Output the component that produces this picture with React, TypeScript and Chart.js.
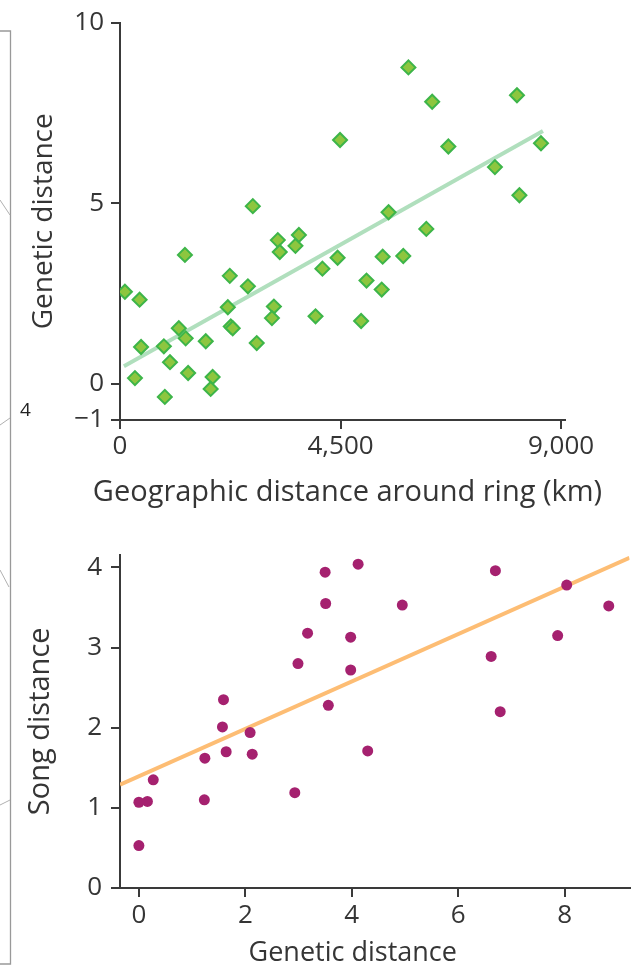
import React, { useEffect, useRef } from 'react';
import { Chart, registerables } from 'chart.js';

Chart.register(...registerables);

const FONT = '"Open Sans", "Noto Sans", "DejaVu Sans", sans-serif';
const AXIS = '#3a3a3a';
const TEXT = '#353535';

// ---- Top chart: geographic vs genetic distance ----
const geoDistanceKm = [100, 400, 305, 430, 915, 895, 1020, 1200, 1340, 1325, 1390, 1750, 1890, 1850, 2240, 2200, 2260, 2300, 2610, 2710, 2790, 3140, 3100, 3220, 3260, 3580, 3650, 3990, 4130, 4440, 4490, 4920, 5030, 5340, 5360, 5480, 5780, 6250, 5885, 6370, 6700, 7650, 8100, 8590, 8150];
const geneticDistTop = [2.55, 2.33, 0.16, 1.02, -0.36, 1.04, 0.6, 1.54, 1.26, 3.57, 0.3, 1.18, 0.19, -0.14, 2.99, 2.12, 1.59, 1.54, 2.7, 4.92, 1.13, 2.14, 1.82, 3.98, 3.65, 3.82, 4.12, 1.87, 3.19, 3.49, 6.75, 1.74, 2.86, 2.61, 3.52, 4.75, 3.54, 4.29, 8.76, 7.81, 6.57, 6.0, 7.99, 6.66, 5.22];
const topFitX = [80, 8630];
const topFitY = [0.49, 7.0];
const topXTicks = [0, 4500, 9000];
const topYTicks = [-1, 0, 5, 10];

// ---- Bottom chart: genetic vs song distance ----
const geneticDistBottom = [3.5, 4.12, 3.51, 3.17, 3.98, 2.99, 3.98, 1.59, 1.57, 2.09, 3.56, 6.7, 4.95, 8.04, 8.83, 7.87, 6.62, 6.79, 1.24, 1.64, 2.13, 0.27, 0.0, 0.16, 1.23, 2.93, 0.0, 4.3];
const songDistance = [3.94, 4.04, 3.55, 3.18, 3.13, 2.8, 2.72, 2.35, 2.01, 1.94, 2.28, 3.96, 3.53, 3.78, 3.52, 3.15, 2.89, 2.2, 1.62, 1.7, 1.67, 1.35, 1.07, 1.08, 1.1, 1.19, 0.53, 1.71];
const bottomFitX = [-0.355, 9.22];
const bottomFitY = [1.29, 4.12];
const bottomXTicks = [0, 2, 4, 6, 8];
const bottomYTicks = [0, 1, 2, 3, 4];

const fmt = (v: number) => (v < 0 ? '\u2212' + Math.abs(v).toLocaleString('en-US') : v.toLocaleString('en-US'));

function axisCommon(tickValues: number[], tickFont: number, tickPad: number) {
  return {
    afterBuildTicks: (s: any) => {
      s.ticks = tickValues.map((v) => ({ value: v }));
    },
    ticks: {
      autoSkip: false,
      maxRotation: 0,
      color: TEXT,
      padding: tickPad,
      font: { family: FONT, size: tickFont },
      callback: (v: any) => fmt(Number(v)),
    },
    grid: { display: true, drawOnChartArea: false, drawTicks: true, tickLength: 9, color: AXIS, lineWidth: 2 },
    border: { display: true, color: AXIS, width: 2 },
  };
}

// shift a scale's title horizontally and let it run wider than the axis
// (the title itself is still drawn by Chart.js)
function adjustTitle(s: any, dx: number, extra: number) {
  if (s.__adjusted) return;
  s.__adjusted = true;
  const proto = Object.getPrototypeOf(s);
  s.drawTitle = function () {
    const ctx = this.ctx;
    const l = this.left;
    const r = this.right;
    this.left = l - extra;
    this.right = r + extra;
    ctx.save();
    ctx.translate(dx, 0);
    proto.drawTitle.call(this);
    ctx.restore();
    this.left = l;
    this.right = r;
  };
}

function useChart(ref: React.RefObject<HTMLCanvasElement>, makeConfig: () => any) {
  useEffect(() => {
    if (!ref.current) return;
    const chart = new Chart(ref.current, makeConfig());
    return () => chart.destroy();
  }, []);
}

function TopChart() {
  const ref = useRef<HTMLCanvasElement>(null);
  useChart(ref, () => ({
    type: 'scatter',
    data: {
      datasets: [
        {
          label: 'points',
          data: geoDistanceKm.map((x, i) => ({ x, y: geneticDistTop[i] })),
          pointStyle: 'rectRot',
          pointRadius: 7,
          backgroundColor: '#8dc63f',
          borderColor: '#3db549',
          borderWidth: 2,
          order: 0,
        },
        {
          label: 'fit',
          type: 'line',
          data: topFitX.map((x, i) => ({ x, y: topFitY[i] })),
          borderColor: '#b0dfbd',
          borderWidth: 4,
          pointRadius: 0,
          fill: false,
          order: 1,
        },
      ],
    },
    options: {
      responsive: false,
      animation: false,
      devicePixelRatio: 1,
      layout: { padding: { top: 21, right: 70, left: 0, bottom: 0 } },
      plugins: { legend: { display: false }, tooltip: { enabled: false } },
      scales: {
        x: {
          type: 'linear',
          min: 0,
          max: 9080,
          ...axisCommon(topXTicks, 26, 2),
          afterFit: (s: any) => { s.height = 100; adjustTitle(s, 5, 60); },
          title: {
            display: true,
            text: 'Geographic distance around ring (km)',
            color: TEXT,
            font: { family: FONT, size: 29, lineHeight: 1 },
            padding: { top: 0, bottom: 13 },
          },
        },
        y: {
          type: 'linear',
          min: -1,
          max: 10,
          ...axisCommon(topYTicks, 26, 7),
          afterFit: (s: any) => { s.width = 120; },
          title: {
            display: true,
            text: 'Genetic distance',
            color: TEXT,
            font: { family: FONT, size: 28, lineHeight: 1 },
            padding: { top: 30, bottom: 0 },
          },
        },
      },
    },
  }));
  return <canvas ref={ref} width={635} height={520} style={{ position: 'absolute', left: 0, top: 0, width: 635, height: 520 }} />;
}

function BottomChart() {
  const ref = useRef<HTMLCanvasElement>(null);
  useChart(ref, () => ({
    type: 'scatter',
    data: {
      datasets: [
        {
          label: 'points',
          data: geneticDistBottom.map((x, i) => ({ x, y: songDistance[i] })),
          pointStyle: 'circle',
          pointRadius: 5.5,
          backgroundColor: '#a5216f',
          borderWidth: 0,
          order: 0,
        },
        {
          label: 'fit',
          type: 'line',
          data: bottomFitX.map((x, i) => ({ x, y: bottomFitY[i] })),
          borderColor: '#fdbd74',
          borderWidth: 4,
          pointRadius: 0,
          fill: false,
          order: 1,
        },
      ],
    },
    options: {
      responsive: false,
      animation: false,
      devicePixelRatio: 1,
      layout: { padding: { top: 23, right: 3, left: 0, bottom: 0 } },
      plugins: { legend: { display: false }, tooltip: { enabled: false } },
      scales: {
        x: {
          type: 'linear',
          min: -0.355,
          max: 9.22,
          ...axisCommon(bottomXTicks, 26, 3),
          afterFit: (s: any) => { s.height = 79; adjustTitle(s, -22, 0); },
          title: {
            display: true,
            text: 'Genetic distance',
            color: TEXT,
            font: { family: FONT, size: 27, lineHeight: 1 },
            padding: { top: 0, bottom: 0 },
          },
        },
        y: {
          type: 'linear',
          min: 0,
          max: 4.16,
          ...axisCommon(bottomYTicks, 26, 9),
          afterFit: (s: any) => { s.width = 120; },
          title: {
            display: true,
            text: 'Song distance',
            color: TEXT,
            font: { family: FONT, size: 29, lineHeight: 1 },
            padding: { top: 26, bottom: 0 },
          },
        },
      },
    },
  }));
  return <canvas ref={ref} width={635} height={437} style={{ position: 'absolute', left: 0, top: 530, width: 635, height: 437 }} />;
}

function EdgeDecor() {
  return (
    <>
      <svg width={20} height={967} style={{ position: 'absolute', left: 0, top: 0 }}>
        <polyline points="0,31 10.5,31 10.5,964 0,964" fill="none" stroke="#999999" strokeWidth={1.3} />
        <line x1={0} y1={200} x2={10} y2={215} stroke="#b0b0b0" strokeWidth={1} />
        <line x1={0} y1={425} x2={10} y2={418} stroke="#b0b0b0" strokeWidth={1} />
        <line x1={0} y1={570} x2={9} y2={587} stroke="#b0b0b0" strokeWidth={1} />
        <line x1={0} y1={805} x2={10} y2={800} stroke="#b0b0b0" strokeWidth={1} />
      </svg>
      <div style={{ position: 'absolute', left: 20, top: 398, fontFamily: FONT, fontSize: 19, color: '#222', lineHeight: '22px' }}>4</div>
    </>
  );
}

export default function App() {
  return (
    <div style={{ position: 'absolute', left: 0, top: 0, width: 635, height: 967, background: '#fff', overflow: 'hidden' }}>
      <TopChart />
      <BottomChart />
      <EdgeDecor />
    </div>
  );
}
